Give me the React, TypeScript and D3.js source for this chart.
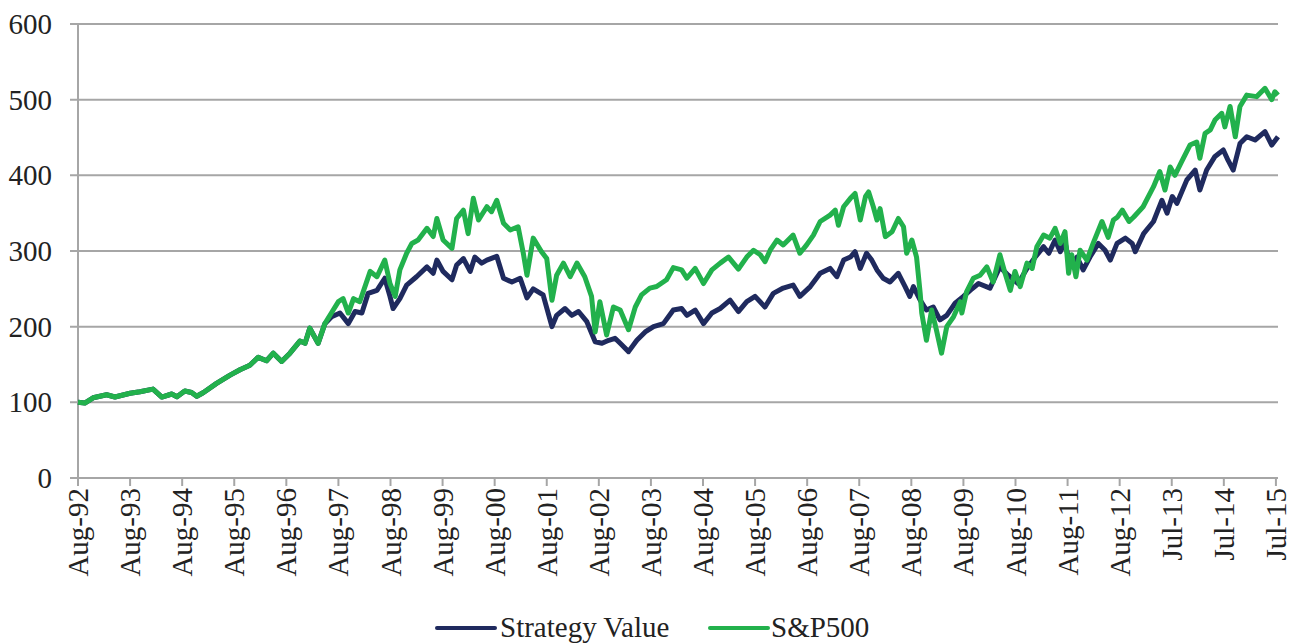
import React from 'react'
import { scaleLinear, line } from 'd3'

// Strategy vs S&P500 growth of 100, Aug-92 .. Jul-15. x = decimal year.

const yTicks = [0, 100, 200, 300, 400, 500, 600]
const xTickLabels = [
  'Aug-92', 'Aug-93', 'Aug-94', 'Aug-95', 'Aug-96', 'Aug-97', 'Aug-98', 'Aug-99',
  'Aug-00', 'Aug-01', 'Aug-02', 'Aug-03', 'Aug-04', 'Aug-05', 'Aug-06', 'Aug-07',
  'Aug-08', 'Aug-09', 'Aug-10', 'Aug-11', 'Aug-12', 'Jul-13', 'Jul-14', 'Jul-15',
]

// both series track each other until early 1997
const sharedStart: [number, number][] = [
  [1992.58, 100], [1992.71, 99], [1992.87, 106], [1993.13, 110], [1993.29, 107],
  [1993.58, 112], [1993.77, 114], [1994.02, 117.5], [1994.19, 107], [1994.38, 111],
  [1994.48, 107.5], [1994.63, 115], [1994.76, 113], [1994.86, 108], [1994.99, 113],
  [1995.24, 125], [1995.5, 136], [1995.69, 143], [1995.88, 149], [1996.04, 159.5],
  [1996.2, 155], [1996.33, 165], [1996.49, 154], [1996.65, 165], [1996.84, 181],
  [1996.94, 178], [1997.03, 198], [1997.19, 178], [1997.32, 204],
]

const sp500: [number, number][] = [
  [1997.48, 222], [1997.58, 233], [1997.67, 237], [1997.77, 218], [1997.87, 237],
  [1997.99, 233], [1998.19, 273], [1998.32, 266], [1998.47, 288], [1998.57, 257],
  [1998.67, 240], [1998.76, 275], [1998.89, 297], [1998.99, 310], [1999.11, 314.5],
  [1999.28, 330], [1999.4, 319], [1999.47, 343], [1999.59, 314.5], [1999.76, 303.5],
  [1999.85, 343], [1999.98, 354], [2000.07, 323], [2000.17, 369.6], [2000.27, 341],
  [2000.43, 358.5], [2000.52, 352], [2000.62, 367], [2000.75, 336.6], [2000.88, 327.7],
  [2001.03, 332], [2001.13, 297], [2001.2, 268], [2001.32, 317], [2001.48, 299],
  [2001.58, 290], [2001.68, 235], [2001.77, 268], [2001.9, 284], [2002.03, 266],
  [2002.16, 284], [2002.31, 266], [2002.44, 240], [2002.51, 193], [2002.6, 233],
  [2002.73, 189], [2002.86, 226], [2002.99, 222], [2003.15, 196], [2003.28, 226],
  [2003.4, 242], [2003.56, 251], [2003.69, 253], [2003.88, 262], [2004.01, 278],
  [2004.17, 275], [2004.27, 264], [2004.43, 277], [2004.59, 257], [2004.75, 275],
  [2004.91, 284], [2005.07, 292], [2005.26, 276], [2005.42, 292], [2005.55, 301],
  [2005.68, 295], [2005.77, 286], [2005.87, 301], [2006.0, 314.5], [2006.12, 308],
  [2006.31, 321], [2006.44, 297], [2006.57, 308], [2006.7, 321], [2006.83, 339],
  [2007.02, 347.5], [2007.12, 354], [2007.18, 334], [2007.28, 358.5], [2007.41, 369.6],
  [2007.5, 376], [2007.6, 341], [2007.7, 372], [2007.76, 378], [2007.85, 358.5],
  [2007.92, 341], [2007.98, 356], [2008.08, 319], [2008.21, 325.5], [2008.33, 343],
  [2008.43, 332], [2008.49, 297], [2008.59, 314.5], [2008.68, 292], [2008.75, 244],
  [2008.78, 218], [2008.87, 182], [2008.97, 222], [2009.06, 196], [2009.16, 165],
  [2009.26, 200], [2009.39, 213], [2009.52, 233], [2009.55, 218], [2009.64, 246],
  [2009.77, 264], [2009.9, 268], [2010.03, 279], [2010.15, 259], [2010.28, 295],
  [2010.38, 270.5], [2010.48, 248], [2010.57, 273], [2010.67, 253], [2010.8, 284],
  [2010.9, 277], [2010.99, 305.7], [2011.12, 321], [2011.24, 317], [2011.34, 330],
  [2011.44, 310], [2011.53, 325.5], [2011.6, 270.5], [2011.66, 295], [2011.74, 266],
  [2011.82, 301], [2011.95, 288], [2012.07, 310], [2012.24, 339], [2012.36, 318],
  [2012.46, 341], [2012.54, 345], [2012.63, 354], [2012.76, 339], [2012.85, 345],
  [2013.03, 358.5], [2013.23, 385], [2013.35, 405], [2013.45, 380.6], [2013.55, 411],
  [2013.64, 400], [2013.77, 418], [2013.93, 440], [2014.06, 444], [2014.12, 422.5],
  [2014.22, 455.5], [2014.32, 460], [2014.41, 473], [2014.54, 482], [2014.6, 464],
  [2014.7, 491], [2014.8, 451], [2014.89, 491], [2015.02, 506], [2015.21, 504],
  [2015.37, 515], [2015.5, 500], [2015.56, 510.5], [2015.62, 506],
]

const strategy: [number, number][] = [
  [1997.45, 213], [1997.61, 218], [1997.77, 204], [1997.9, 220], [1998.03, 218],
  [1998.15, 244], [1998.32, 248], [1998.47, 264], [1998.57, 240], [1998.63, 224],
  [1998.76, 237], [1998.89, 255], [1999.08, 266], [1999.28, 279], [1999.4, 270.5],
  [1999.47, 288], [1999.59, 273], [1999.76, 262], [1999.85, 281.5], [1999.98, 290],
  [2000.11, 273], [2000.2, 292], [2000.33, 284], [2000.43, 288], [2000.62, 293],
  [2000.75, 264], [2000.91, 259], [2001.07, 264], [2001.2, 238], [2001.32, 250],
  [2001.51, 242], [2001.68, 200], [2001.77, 215], [2001.93, 224], [2002.06, 215],
  [2002.19, 220], [2002.35, 206.6], [2002.51, 180], [2002.64, 178], [2002.77, 182],
  [2002.89, 184.6], [2002.99, 178], [2003.15, 167], [2003.31, 182], [2003.47, 193],
  [2003.63, 200], [2003.82, 204], [2004.01, 222], [2004.17, 224], [2004.27, 215],
  [2004.43, 222], [2004.59, 204], [2004.75, 218], [2004.91, 224], [2005.1, 235],
  [2005.26, 220], [2005.42, 233], [2005.58, 240], [2005.77, 226], [2005.93, 244],
  [2006.12, 251], [2006.31, 255], [2006.44, 240], [2006.64, 253], [2006.83, 270.5],
  [2007.02, 277], [2007.15, 266], [2007.28, 288], [2007.41, 292], [2007.5, 299],
  [2007.6, 277], [2007.72, 297], [2007.82, 288], [2007.92, 275], [2008.04, 264],
  [2008.17, 259], [2008.33, 270.5], [2008.46, 253], [2008.55, 240], [2008.62, 253],
  [2008.75, 235], [2008.87, 222], [2009.0, 226], [2009.13, 209], [2009.26, 215],
  [2009.42, 231], [2009.58, 240], [2009.71, 248], [2009.87, 257], [2010.09, 251],
  [2010.28, 279], [2010.44, 268], [2010.63, 257], [2010.8, 277], [2010.96, 292],
  [2011.12, 305.7], [2011.22, 297], [2011.34, 314.5], [2011.44, 299], [2011.53, 312],
  [2011.63, 279], [2011.76, 292], [2011.88, 275], [2012.01, 292], [2012.17, 310],
  [2012.3, 301], [2012.4, 288], [2012.53, 310], [2012.69, 317], [2012.82, 310],
  [2012.88, 299], [2013.04, 323], [2013.23, 339], [2013.39, 367], [2013.49, 350],
  [2013.59, 372], [2013.68, 363], [2013.87, 394], [2014.03, 407], [2014.12, 380.6],
  [2014.25, 407], [2014.41, 425], [2014.57, 433.5], [2014.66, 420], [2014.76, 407],
  [2014.89, 442], [2015.02, 451], [2015.18, 446.7], [2015.37, 457.7], [2015.5, 440],
  [2015.62, 451],
]

const NAVY = '#1f2a5e'
const GREEN = '#22b14c'
const GRID = '#a6a6a6'
const FONT = '"Liberation Serif", "Times New Roman", serif'
const FS = 29

export default function App() {
  const width = 1300
  const height = 644
  const m = { top: 24, right: 22, bottom: 166, left: 78 }
  const iw = width - m.left - m.right
  const ih = height - m.top - m.bottom
  const x0 = 1992.58
  const x = scaleLinear().domain([x0, x0 + 23.04]).range([0, iw])
  const y = scaleLinear().domain([0, 600]).range([ih, 0])
  const path = line<[number, number]>()
    .x((d) => x(d[0]))
    .y((d) => y(d[1]))

  const stratData = [...sharedStart, ...strategy]
  const spData = [...sharedStart, ...sp500]

  return (
    <svg
      width={width}
      height={height}
      style={{ position: 'absolute', left: 0, top: 0, background: '#fff' }}
      fontFamily={FONT}
    >
      <g transform={`translate(${m.left},${m.top})`}>
        {yTicks.map((t) => (
          <g key={t}>
            <line x1={-8} x2={iw} y1={y(t)} y2={y(t)} stroke={GRID} strokeWidth={2} />
            <text x={-26} y={y(t)} textAnchor="end" dominantBaseline="central" fontSize={FS} fill="#222">
              {t}
            </text>
          </g>
        ))}
        <line x1={0} x2={0} y1={0} y2={ih} stroke={GRID} strokeWidth={2} />
        {xTickLabels.map((lab, i) => {
          const tx = x(x0 + i)
          return (
            <g key={lab}>
              <line x1={tx} x2={tx} y1={ih} y2={ih + 8} stroke={GRID} strokeWidth={2} />
              <text
                transform={`translate(${tx},${ih + 10}) rotate(-90)`}
                textAnchor="end"
                dominantBaseline="central"
                fontSize={FS}
                fill="#222"
              >
                {lab}
              </text>
            </g>
          )
        })}
        <path d={path(stratData) ?? ''} fill="none" stroke={NAVY} strokeWidth={5} strokeLinejoin="round" />
        <path d={path(spData) ?? ''} fill="none" stroke={GREEN} strokeWidth={5} strokeLinejoin="round" />
      </g>
      <g transform="translate(0,628)">
        <line x1={437} x2={495} y1={0} y2={0} stroke={NAVY} strokeWidth={4} strokeLinecap="round" />
        <text x={500} y={9} fontSize={FS} fill="#222">Strategy Value</text>
        <line x1={710} x2={768} y1={0} y2={0} stroke={GREEN} strokeWidth={4} strokeLinecap="round" />
        <text x={771} y={9} fontSize={FS} fill="#222">S&amp;P500</text>
      </g>
    </svg>
  )
}
